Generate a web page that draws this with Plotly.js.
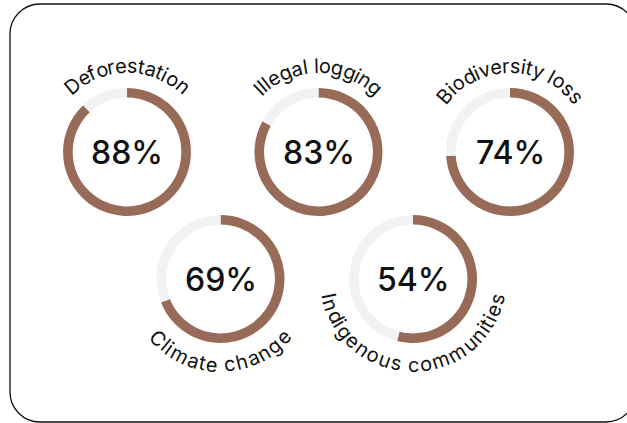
<!DOCTYPE html>
<html>
<head>
<meta charset="utf-8">
<script src="https://cdn.plot.ly/plotly-3.0.1.min.js"></script>
<style>
  html, body { margin: 0; padding: 0; background: #ffffff; }
  #chart { width: 627px; height: 423px; }
</style>
</head>
<body>
<div id="chart"></div>
<script>
// ---- data ----
const categories = ['Deforestation', 'Illegal logging', 'Biodiversity loss', 'Climate change', 'Indigenous communities'];
const values = [88, 83, 74, 69, 54];

// ---- layout config ----
const W = 627, H = 423;
const centers = [[127, 152], [318.5, 152], [510, 152], [220.5, 279], [413, 279]];
const labelSide = ['top', 'top', 'top', 'bottom', 'bottom'];
const ringR = 64, holeFrac = 0.85;
const brown = '#986b59', grey = '#f2f2f4', ink = '#111111';
const labelFont = 20, labelFamily = 'Inter, "Noto Sans", sans-serif';
const spacingR = 82, glyphR = 86;

const px = x => x / W;
const py = y => 1 - y / H;

const traces = values.map((v, i) => {
  const [cx, cy] = centers[i];
  return {
    type: 'pie',
    values: [v, 100 - v],
    labels: [categories[i], 'Other ' + i],
    sort: false,
    direction: 'clockwise',
    rotation: 0,
    hole: holeFrac,
    marker: { colors: [brown, grey], line: { width: 0 } },
    textinfo: 'none',
    hoverinfo: 'skip',
    showlegend: false,
    domain: { x: [px(cx - ringR), px(cx + ringR)], y: [py(cy + ringR), py(cy - ringR)] }
  };
});

const annotations = [];
values.forEach((v, i) => {
  const [cx, cy] = centers[i];
  annotations.push({
    text: v + '%', x: px(cx), y: py(cy), xref: 'paper', yref: 'paper',
    xanchor: 'center', yanchor: 'middle', showarrow: false,
    font: { family: labelFamily, size: 32, color: ink, weight: 500 }
  });
});

// curved labels: one annotation per glyph, placed along an arc
const ctx = document.createElement('canvas').getContext('2d');
ctx.font = labelFont + 'px Inter';
categories.forEach((txt, i) => {
  const [cx, cy] = centers[i];
  const total = ctx.measureText(txt).width;
  for (let k = 0; k < txt.length; k++) {
    const ch = txt[k];
    if (ch === ' ') continue;
    const a = ctx.measureText(txt.substring(0, k)).width;
    const b = ctx.measureText(txt.substring(0, k + 1)).width;
    const s = (a + b) / 2 - total / 2;
    const th = s / spacingR;
    let x, y, ang;
    if (labelSide[i] === 'top') {
      x = cx + glyphR * Math.sin(th); y = cy - glyphR * Math.cos(th); ang = th * 180 / Math.PI;
    } else {
      x = cx + glyphR * Math.sin(th); y = cy + glyphR * Math.cos(th); ang = -th * 180 / Math.PI;
    }
    annotations.push({
      text: ch, x: px(x), y: py(y), xref: 'paper', yref: 'paper',
      xanchor: 'center', yanchor: 'middle', showarrow: false, textangle: ang,
      font: { family: labelFamily, size: labelFont, color: ink }
    });
  }
});

// rounded frame
const fx0 = 10, fy0 = 4, fx1 = 636, fy1 = 422, fr = 30, kk = 0.5523 * fr;
const P = (x, y) => px(x) + ',' + py(y);
const framePath = 'M' + P(fx0 + fr, fy0) + ' L' + P(fx1 - fr, fy0) +
  ' C' + P(fx1 - fr + kk, fy0) + ' ' + P(fx1, fy0 + fr - kk) + ' ' + P(fx1, fy0 + fr) +
  ' L' + P(fx1, fy1 - fr) +
  ' C' + P(fx1, fy1 - fr + kk) + ' ' + P(fx1 - fr + kk, fy1) + ' ' + P(fx1 - fr, fy1) +
  ' L' + P(fx0 + fr, fy1) +
  ' C' + P(fx0 + fr - kk, fy1) + ' ' + P(fx0, fy1 - fr + kk) + ' ' + P(fx0, fy1 - fr) +
  ' L' + P(fx0, fy0 + fr) +
  ' C' + P(fx0, fy0 + fr - kk) + ' ' + P(fx0 + fr - kk, fy0) + ' ' + P(fx0 + fr, fy0) + ' Z';

const layout = {
  width: W, height: H,
  margin: { l: 0, r: 0, t: 0, b: 0 },
  paper_bgcolor: '#ffffff',
  showlegend: false,
  annotations: annotations,
  shapes: [{ type: 'path', xref: 'paper', yref: 'paper', path: framePath,
             line: { color: ink, width: 1.3 }, fillcolor: 'rgba(0,0,0,0)', layer: 'below' }]
};

Plotly.newPlot('chart', traces, layout, { displayModeBar: false, staticPlot: true });
</script>
</body>
</html>
